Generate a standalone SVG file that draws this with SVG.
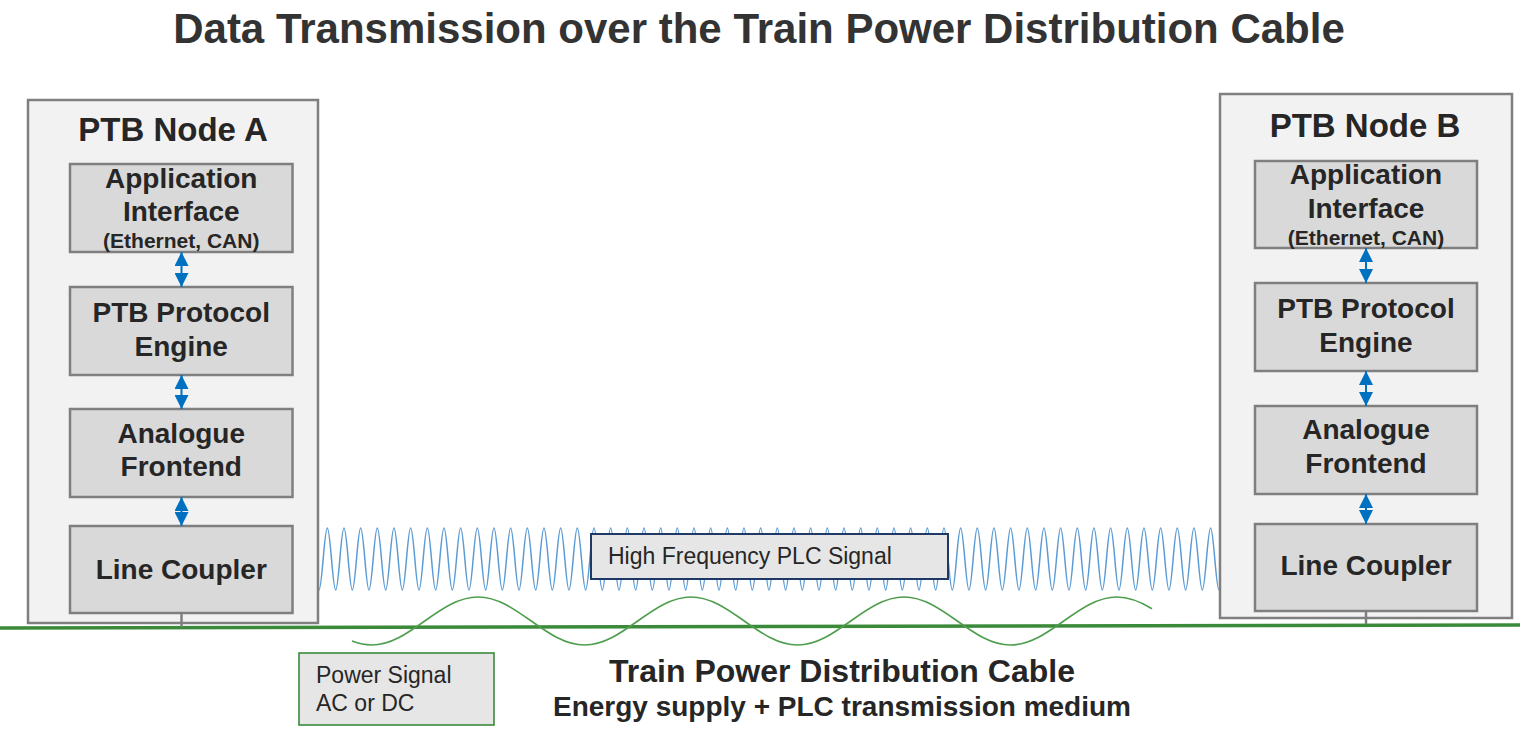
<svg xmlns="http://www.w3.org/2000/svg" width="1536" height="745" viewBox="0 0 1536 745">
<style>
.outer{fill:#F2F2F2;stroke:#7F7F7F;stroke-width:2.5}
.inner{fill:#D9D9D9;stroke:#7F7F7F;stroke-width:2.5}
.t{font-family:"Liberation Sans",Arial,sans-serif;font-weight:bold;fill:#262626;text-anchor:middle;font-size:28px}
.sm{font-size:21px}
.nt{font-size:33px}
.reg{font-family:"Liberation Sans",Arial,sans-serif;fill:#262626;font-size:23px}
.arr{stroke:#0070C0;stroke-width:2;fill:none;marker-start:url(#ah);marker-end:url(#ah)}
.stub{stroke:#7F7F7F;stroke-width:2.5}
</style>
<defs>
<marker id="ah" viewBox="0 0 14 14" refX="14" refY="7" markerWidth="14" markerHeight="14" markerUnits="userSpaceOnUse" orient="auto-start-reverse">
<path d="M0,0 L14,7 L0,14 z" fill="#0070C0"/>
</marker>
</defs>
<rect width="1536" height="745" fill="#FFFFFF"/>
<text x="759" y="43" style="font-family:'Liberation Sans',Arial,sans-serif;font-weight:bold;font-size:42px;fill:#333333;text-anchor:middle">Data Transmission over the Train Power Distribution Cable</text>

<g id="signals">
<path id="hf-wave" fill="none" stroke="#5B9BD5" stroke-width="1.5" d="M319,590 c3.03,0 5.303,-62 8.333,-62s5.3,62 8.333,62s5.3,-62 8.333,-62s5.3,62 8.333,62s5.3,-62 8.333,-62s5.3,62 8.333,62s5.3,-62 8.333,-62s5.3,62 8.333,62s5.3,-62 8.333,-62s5.3,62 8.333,62s5.3,-62 8.333,-62s5.3,62 8.333,62s5.3,-62 8.333,-62s5.3,62 8.333,62s5.3,-62 8.333,-62s5.3,62 8.333,62s5.3,-62 8.333,-62s5.3,62 8.333,62s5.3,-62 8.333,-62s5.3,62 8.333,62s5.3,-62 8.333,-62s5.3,62 8.333,62s5.3,-62 8.333,-62s5.3,62 8.333,62s5.3,-62 8.333,-62s5.3,62 8.333,62s5.3,-62 8.333,-62s5.3,62 8.333,62s5.3,-62 8.333,-62s5.3,62 8.333,62s5.3,-62 8.333,-62s5.3,62 8.333,62s5.3,-62 8.333,-62s5.3,62 8.333,62s5.3,-62 8.333,-62s5.3,62 8.333,62s5.3,-62 8.333,-62s5.3,62 8.333,62s5.3,-62 8.333,-62s5.3,62 8.333,62s5.3,-62 8.333,-62s5.3,62 8.333,62s5.3,-62 8.333,-62s5.3,62 8.333,62s5.3,-62 8.333,-62s5.3,62 8.333,62s5.3,-62 8.333,-62s5.3,62 8.333,62s5.3,-62 8.333,-62s5.3,62 8.333,62s5.3,-62 8.333,-62s5.3,62 8.333,62s5.3,-62 8.333,-62s5.3,62 8.333,62s5.3,-62 8.333,-62s5.3,62 8.333,62s5.3,-62 8.333,-62s5.3,62 8.333,62s5.3,-62 8.333,-62s5.3,62 8.333,62s5.3,-62 8.333,-62s5.3,62 8.333,62s5.3,-62 8.333,-62s5.3,62 8.333,62s5.3,-62 8.333,-62s5.3,62 8.333,62s5.3,-62 8.333,-62s5.3,62 8.333,62s5.3,-62 8.333,-62s5.3,62 8.333,62s5.3,-62 8.333,-62s5.3,62 8.333,62s5.3,-62 8.333,-62s5.3,62 8.333,62s5.3,-62 8.333,-62s5.3,62 8.333,62s5.3,-62 8.333,-62s5.3,62 8.333,62s5.3,-62 8.333,-62s5.3,62 8.333,62s5.3,-62 8.333,-62s5.3,62 8.333,62s5.3,-62 8.333,-62s5.3,62 8.333,62s5.3,-62 8.333,-62s5.3,62 8.333,62s5.3,-62 8.333,-62s5.3,62 8.333,62s5.3,-62 8.333,-62s5.3,62 8.333,62s5.3,-62 8.333,-62s5.3,62 8.333,62s5.3,-62 8.333,-62s5.3,62 8.333,62s5.3,-62 8.333,-62s5.3,62 8.333,62s5.3,-62 8.333,-62s5.3,62 8.333,62s5.3,-62 8.333,-62s5.3,62 8.333,62s5.3,-62 8.333,-62s5.3,62 8.333,62s5.3,-62 8.333,-62s5.3,62 8.333,62s5.3,-62 8.333,-62s5.3,62 8.333,62s5.3,-62 8.333,-62s5.3,62 8.333,62s5.3,-62 8.333,-62s5.3,62 8.333,62s5.3,-62 8.333,-62s5.3,62 8.333,62"/>
<g id="hf-label">
<rect x="591" y="534" width="357" height="45" fill="#E6E6E6" stroke="#203864" stroke-width="2"/>
<text x="608" y="564" class="reg">High Frequency PLC Signal</text>
</g>
<line id="cable" x1="0" y1="628" x2="1520" y2="625" stroke="#3A8A3A" stroke-width="3.5"/>
<path id="power-wave" fill="none" stroke="#4E9E4E" stroke-width="1.6" d="M352,641.1 C358.5,643.5 365,645 371.5,645 C410.3,645 439.2,597 478,597 S545.7,645 584.5,645 S652.2,597 691,597 S758.7,645 797.5,645 S865.2,597 904,597 S971.7,645 1010.5,645 S1078.2,597 1117,597 C1128.7,597 1140.3,601.6 1152,608.7"/>
<g id="power-label">
<rect x="299" y="653" width="195" height="72" fill="#E6E6E6" stroke="#3A8A3A" stroke-width="1.6"/>
<text x="316" y="683" class="reg">Power Signal</text>
<text x="316" y="711" class="reg">AC or DC</text>
</g>
<g id="cable-label">
<text x="842" y="682" class="t" style="font-size:32px">Train Power Distribution Cable</text>
<text x="842" y="716" class="t" style="font-size:28px">Energy supply + PLC transmission medium</text>
</g>
</g>

<g id="nodeA">
<rect class="outer" x="28" y="100" width="290" height="523"/>
<text class="t nt" x="173" y="141">PTB Node A</text>
<g id="nodeA-app">
<rect class="inner" x="70" y="164" width="222.5" height="88"/>
<text class="t" x="181.25" y="188">Application</text>
<text class="t" x="181.25" y="221">Interface</text>
<text class="t sm" x="181.25" y="248">(Ethernet, CAN)</text>
</g>
<g id="nodeA-proto">
<rect class="inner" x="70" y="287" width="222.5" height="88"/>
<text class="t" x="181.25" y="322">PTB Protocol</text>
<text class="t" x="181.25" y="356">Engine</text>
</g>
<g id="nodeA-afe">
<rect class="inner" x="70" y="409" width="222.5" height="88"/>
<text class="t" x="181.25" y="443">Analogue</text>
<text class="t" x="181.25" y="476">Frontend</text>
</g>
<g id="nodeA-lc">
<rect class="inner" x="70" y="526" width="222.5" height="87"/>
<text class="t" x="181.25" y="579">Line Coupler</text>
</g>
</g>

<g id="nodeB">
<rect class="outer" x="1220" y="94" width="292" height="524"/>
<text class="t nt" x="1365" y="137">PTB Node B</text>
<g id="nodeB-app">
<rect class="inner" x="1255" y="161" width="222" height="87"/>
<text class="t" x="1366" y="184">Application</text>
<text class="t" x="1366" y="218">Interface</text>
<text class="t sm" x="1366" y="245">(Ethernet, CAN)</text>
</g>
<g id="nodeB-proto">
<rect class="inner" x="1255" y="283" width="222" height="88"/>
<text class="t" x="1366" y="318">PTB Protocol</text>
<text class="t" x="1366" y="352">Engine</text>
</g>
<g id="nodeB-afe">
<rect class="inner" x="1255" y="406" width="222" height="88"/>
<text class="t" x="1366" y="439">Analogue</text>
<text class="t" x="1366" y="473">Frontend</text>
</g>
<g id="nodeB-lc">
<rect class="inner" x="1255" y="524" width="222" height="87"/>
<text class="t" x="1366" y="575">Line Coupler</text>
</g>
</g>

<g id="connectors">
<line class="arr" x1="181.5" y1="252" x2="181.5" y2="287"/>
<line class="arr" x1="181.5" y1="375" x2="181.5" y2="409"/>
<line class="arr" x1="181.5" y1="497" x2="181.5" y2="526"/>
<line class="arr" x1="1366" y1="248" x2="1366" y2="283"/>
<line class="arr" x1="1366" y1="371" x2="1366" y2="406"/>
<line class="arr" x1="1366" y1="494" x2="1366" y2="524"/>
<line class="stub" x1="181.5" y1="613" x2="181.5" y2="627"/>
<line class="stub" x1="1366" y1="611" x2="1366" y2="624"/>
</g>
</svg>
